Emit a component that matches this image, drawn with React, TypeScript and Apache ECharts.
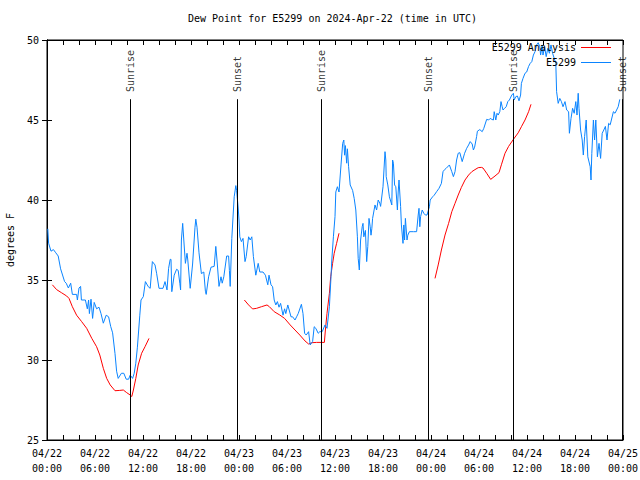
import React, { useEffect, useRef } from "react";
import * as echarts from "echarts";

const FONT = "DejaVu Sans Mono";

// hours since 2024-04-22 00:00 UTC, dew point (F)
const e5299Obs: [number, number][] = [
  [0.1, 38.2], [0.2, 37.3], [0.5, 36.8], [0.8, 36.9], [1.1, 36.7], [1.4, 36.5], [1.7, 35.7], [2.2, 34.9],
  [2.4, 34.8], [2.67, 34.5], [2.96, 34.8], [3.17, 34.1], [3.7, 34.1], [3.8, 33.75], [4.0, 34.5], [4.2, 34.6],
  [4.3, 33.75], [4.8, 33.75], [5.04, 33.2], [5.2, 33.75], [5.3, 32.9], [5.5, 33.8], [5.7, 32.6], [5.9, 33.6],
  [6.2, 33.2], [6.5, 33.3], [6.75, 32.9], [7.04, 32.3], [7.4, 32.8], [7.7, 32.7], [7.96, 32.1], [8.2, 31.7],
  [8.5, 30.4], [8.7, 29.3], [8.9, 28.85], [9.3, 29.17], [9.6, 29.17], [9.9, 28.8], [10.2, 28.8], [10.4, 29.06],
  [10.7, 28.85], [10.9, 29.17], [11.1, 29.8], [11.3, 30.8], [11.6, 32.8], [11.75, 33.75], [12.04, 33.96],
  [12.3, 34.9], [12.66, 34.58], [12.9, 34.48], [13.17, 36.15], [13.5, 35.94], [13.7, 35.42], [14.0, 34.48],
  [14.5, 34.48], [14.75, 34.9], [15.0, 34.38], [15.2, 35.73], [15.4, 36.29], [15.5, 36.29], [15.6, 34.27],
  [15.9, 35.3], [16.2, 35.67], [16.4, 35.6], [16.6, 34.8], [16.7, 34.38], [16.8, 37.5], [16.96, 38.54],
  [17.1, 37.5], [17.3, 36.04], [17.5, 36.67], [17.6, 36.25], [17.9, 34.48], [18.2, 36.0], [18.5, 38.3],
  [18.6, 38.8], [18.75, 38.3], [19.0, 36.7], [19.3, 35.4], [19.6, 35.5], [19.8, 34.3], [19.9, 34.1],
  [20.2, 35.2], [20.5, 35.8], [20.9, 35.85], [21.1, 37.1], [21.25, 36.25], [21.5, 34.6], [21.75, 35.2],
  [21.9, 34.8], [22.1, 35.2], [22.46, 36.5], [22.7, 36.5], [22.8, 35.6], [22.9, 34.6], [23.1, 37.6],
  [23.4, 40.2], [23.6, 40.9], [23.7, 40.6], [23.9, 39.5], [24.0, 38.75], [24.1, 37.7], [24.3, 37.4],
  [24.5, 37.6], [24.75, 36.15], [24.9, 36.46], [25.2, 37.7], [25.4, 37.5], [25.6, 37.7], [25.8, 36.46],
  [26.1, 35.3], [26.4, 36.04], [26.6, 35.5], [27.0, 35.5], [27.3, 35.3], [27.6, 34.7], [27.75, 35.3],
  [28.0, 34.7], [28.2, 34.58], [28.4, 33.75], [28.6, 33.44], [28.8, 33.65], [29.0, 33.3], [29.2, 33.54],
  [29.5, 32.8], [29.7, 33.2], [29.85, 32.9], [30.1, 33.44], [30.5, 32.7], [30.7, 32.7], [31.0, 32.5],
  [31.2, 32.7], [31.4, 32.9], [31.8, 33.48], [32.0, 32.9], [32.2, 31.67], [32.4, 31.56], [32.7, 31.77],
  [32.9, 30.94], [33.2, 31.15], [33.4, 32.08], [33.6, 31.98], [33.9, 31.67], [34.1, 31.77], [34.4, 31.77],
  [34.75, 32.19], [35.0, 31.98], [35.3, 33.33], [35.5, 35.2], [35.6, 36.25], [35.8, 37.7], [36.0, 38.96],
  [36.1, 40.5], [36.3, 40.83], [36.5, 40.5], [36.75, 42.19], [36.96, 43.54], [37.1, 43.75], [37.2, 42.8],
  [37.3, 43.4], [37.46, 42.3], [37.55, 43.2], [37.7, 42.08], [37.9, 40.94], [38.2, 40.6], [38.4, 40.1],
  [38.6, 39.375], [38.8, 37.7], [38.9, 36.35], [39.04, 35.625], [39.2, 37.5], [39.4, 38.33], [39.5, 38.54],
  [39.6, 37.7], [39.8, 38.1], [39.96, 36.15], [40.1, 37.1], [40.25, 38.85], [40.4, 38.33], [40.5, 37.8],
  [40.6, 38.2], [40.7, 38.85], [41.0, 39.69], [41.2, 39.375], [41.4, 40.0], [41.6, 39.8], [41.7, 39.6],
  [41.8, 40.0], [42.0, 40.83], [42.25, 43.02], [42.35, 42.5], [42.4, 41.46], [42.6, 40.94], [42.8, 40.2],
  [43.1, 39.69], [43.2, 42.5], [43.3, 42.3], [43.45, 40.94], [43.6, 40.83], [43.8, 39.375], [43.9, 40.5],
  [44.0, 41.25], [44.2, 39.6], [44.3, 38.44], [44.5, 37.29], [44.6, 38.44], [44.7, 37.5], [44.8, 38.85],
  [45.0, 37.5], [45.1, 37.8], [45.3, 38.02], [45.8, 38.02], [46.2, 38.02], [46.4, 39.06], [46.5, 39.48],
  [46.6, 38.33], [46.7, 38.96], [46.9, 39.375], [47.1, 39.17], [47.3, 39.06], [47.5, 39.06], [47.8, 39.58],
  [47.9, 40.0], [48.2, 40.2], [48.4, 40.3], [48.7, 40.52], [49.0, 40.73], [49.3, 41.04], [49.5, 41.77],
  [49.7, 41.9], [49.9, 41.98], [50.3, 42.19], [50.6, 41.77], [50.8, 41.46], [51.0, 41.77], [51.2, 42.5],
  [51.4, 42.92], [51.6, 42.96], [51.9, 42.4], [52.2, 42.92], [52.46, 43.23], [52.7, 43.44], [52.9, 43.65],
  [53.15, 43.5], [53.3, 43.125], [53.45, 43.3], [53.7, 43.96], [53.8, 44.3], [54.1, 44.4], [54.4, 44.27],
  [54.6, 44.48], [54.96, 45.04], [55.2, 45.0], [55.4, 45.1], [55.6, 45.04], [55.8, 45.0], [55.9, 45.52],
  [56.1, 45.0], [56.25, 45.42], [56.4, 45.31], [56.6, 45.52], [56.75, 46.15], [56.9, 45.83], [57.0, 45.625],
  [57.2, 45.73], [57.4, 45.83], [57.6, 46.15], [57.8, 46.25], [58.1, 46.56], [58.3, 46.67], [58.4, 46.25],
  [58.6, 46.46], [58.8, 46.5], [59.0, 46.2], [59.2, 46.56], [59.3, 47.29], [59.5, 47.6], [59.75, 47.92],
  [59.96, 48.0], [60.2, 48.35], [60.4, 48.54], [60.6, 48.65], [60.8, 49.06], [61.0, 49.27], [61.2, 49.69],
  [61.4, 49.83], [61.6, 49.58], [61.7, 49.06], [61.9, 49.69], [62.0, 49.06], [62.2, 49.58], [62.4, 48.96],
  [62.6, 49.48], [62.8, 49.17], [63.0, 49.69], [63.2, 49.17], [63.6, 48.54], [63.7, 46.77], [63.9, 46.04],
  [64.1, 46.35], [64.3, 46.15], [64.5, 45.83], [64.75, 46.15], [64.96, 45.625], [65.2, 45.52], [65.3, 44.17],
  [65.5, 45.1], [65.7, 45.73], [65.9, 45.42], [66.1, 46.15], [66.25, 45.31], [66.4, 46.67], [66.5, 45.73],
  [66.7, 44.375], [66.9, 43.75], [67.04, 42.81], [67.2, 43.96], [67.4, 45.0], [67.6, 42.7], [67.9, 42.08],
  [68.0, 41.25], [68.1, 42.9], [68.3, 45.0], [68.45, 43.75], [68.6, 45.0], [68.8, 42.7], [69.0, 43.54],
  [69.2, 42.6], [69.4, 44.17], [69.6, 44.375], [69.8, 44.6], [70.0, 43.75], [70.2, 44.79], [70.4, 44.7],
  [70.8, 45.52], [71.0, 45.42], [71.2, 45.625], [71.4, 45.83], [71.6, 46.29],
];

const analysisDay1: [number, number][] = [
  [0.67, 34.7], [1.2, 34.4], [1.83, 34.2], [2.46, 34.0], [2.75, 33.85], [3.17, 33.33], [3.7, 32.8],
  [4.33, 32.4], [4.96, 31.98], [5.6, 31.35], [6.2, 30.83], [6.6, 30.31], [7.04, 29.48], [7.46, 28.85],
  [7.9, 28.44], [8.5, 28.08], [9.1, 28.1], [9.54, 28.125], [9.96, 27.96], [10.4, 27.81], [10.6, 27.72],
  [10.8, 28.125], [11.1, 28.85], [11.4, 29.69], [11.83, 30.42], [12.25, 30.83], [12.75, 31.35],
];
const analysisDay2: [number, number][] = [
  [24.67, 33.75], [25.2, 33.44], [25.7, 33.19], [26.2, 33.23], [26.8, 33.33], [27.5, 33.44], [27.8, 33.33],
  [28.4, 33.02], [29.1, 32.81], [29.7, 32.6], [30.4, 32.19], [31.0, 31.875], [31.6, 31.56], [32.25, 31.19],
  [32.7, 31.0], [33.1, 31.08], [33.7, 31.1], [34.3, 31.1], [34.67, 31.1], [34.8, 31.875], [35.0, 32.92],
  [35.3, 34.17], [35.46, 35.2], [35.7, 36.04], [35.9, 36.67], [36.2, 37.29], [36.5, 37.92],
];
const analysisDay3: [number, number][] = [
  [48.5, 35.1], [48.9, 35.94], [49.3, 36.875], [49.75, 37.81], [50.2, 38.54], [50.6, 39.27], [51.0, 39.79],
  [51.4, 40.31], [51.8, 40.79], [52.25, 41.25], [52.7, 41.56], [53.1, 41.77], [53.5, 41.9], [53.9, 42.02],
  [54.3, 42.04], [54.5, 42.0], [54.96, 41.67], [55.46, 41.29], [56.0, 41.5], [56.5, 41.71], [56.8, 42.2],
  [57.25, 42.92], [57.7, 43.35], [58.3, 43.79], [58.9, 44.2], [59.3, 44.58], [59.75, 45.0], [60.2, 45.52],
  [60.5, 45.98],
];

const sunHours = [10.375, 23.75, 34.25, 47.625, 58.25, 71.9];
const sunLabels = ["Sunrise", "Sunset", "Sunrise", "Sunset", "Sunrise", "Sunset"];

const titleText = "Dew Point for E5299 on 2024-Apr-22 (time in UTC)";
const yName = "degrees F";
const startDay = 22;

const RED = "#ff0000";
const BLUE = "#0a84ff";

function fmtHour(h: number) {
  const day = startDay + Math.floor(h / 24);
  const hh = Math.round(h % 24);
  return `04/${day}\n${hh < 10 ? "0" + hh : hh}:00`;
}

export default function App() {
  const ref = useRef<HTMLDivElement>(null);
  useEffect(() => {
    if (!ref.current) return;
    const chart = echarts.init(ref.current, null, { renderer: "svg" });
    const txt = { fontFamily: FONT, fontSize: 10, color: "#000" };
    const xBase = {
      type: "value" as const,
      min: 0,
      max: 72,
      interval: 6,
      splitLine: { show: false },
      axisLine: { show: true, lineStyle: { color: "#000", width: 1 } },
      axisTick: { show: true, inside: true, length: 5, lineStyle: { color: "#000" } },
      minorTick: { show: true, splitNumber: 3, length: 5, lineStyle: { color: "#000" } },
      minorSplitLine: { show: false },
    };
    const yBase = {
      type: "value" as const,
      min: 25,
      max: 50,
      interval: 5,
      splitLine: { show: false },
      axisLine: { show: true, lineStyle: { color: "#000", width: 1 } },
      axisTick: { show: true, inside: true, length: 5, lineStyle: { color: "#000" } },
    };
    const analysisSeries = [analysisDay1, analysisDay2, analysisDay3].map((d) => ({
      name: "E5299 Analysis",
      type: "line",
      data: d,
      showSymbol: false,
      symbol: "none",
      color: RED,
      lineStyle: { color: RED, width: 1 },
      itemStyle: { color: RED },
    }));
    chart.setOption({
      animation: false,
      title: {
        text: titleText,
        left: 188,
        top: 13,
        padding: 0,
        textStyle: { ...txt, fontWeight: "normal" },
      },
      legend: {
        data: [
          { name: "E5299 Analysis", icon: "rect", itemStyle: { color: RED, borderColor: RED, borderWidth: 0 } },
          { name: "E5299", icon: "rect", itemStyle: { color: BLUE, borderColor: BLUE, borderWidth: 0 } },
        ],
        orient: "vertical",
        right: 29,
        top: 42,
        padding: 0,
        align: "right",
        itemWidth: 30,
        itemHeight: 1,
        itemGap: 4,
        textStyle: { ...txt, lineHeight: 11 },
      },
      grid: {
        left: 47,
        right: 17,
        top: 40,
        bottom: 40,
        show: true,
        borderColor: "#000",
        borderWidth: 1,
        containLabel: false,
        outerBoundsMode: "none",
      },
      xAxis: [
        {
          ...xBase,
          position: "bottom",
          axisLabel: { ...txt, margin: 6, lineHeight: 15, formatter: (v: number) => fmtHour(v) },
        },
        { ...xBase, position: "top", axisLabel: { show: false } },
      ],
      yAxis: [
        {
          ...yBase,
          position: "left",
          name: yName,
          nameLocation: "middle",
          nameGap: 32,
          nameRotate: 90,
          nameTextStyle: { ...txt },
          axisLabel: { ...txt, margin: 8 },
        },
        { ...yBase, position: "right", axisLabel: { show: false } },
      ],
      series: [
        ...analysisSeries,
        {
          name: "E5299",
          type: "line",
          data: e5299Obs,
          showSymbol: false,
          symbol: "none",
          color: BLUE,
          lineStyle: { color: BLUE, width: 1 },
          itemStyle: { color: BLUE },
        },
        {
          name: "sun",
          type: "scatter",
          silent: true,
          symbolSize: 1,
          itemStyle: { color: "rgba(0,0,0,0)" },
          data: sunHours.map((h, i) => ({ name: sunLabels[i], value: [h, 46.75] })),
          label: {
            show: true,
            formatter: "{b}",
            position: "inside",
            rotate: 90,
            align: "left",
            verticalAlign: "middle",
            ...txt,
          },
          markLine: {
            silent: true,
            symbol: ["none", "none"],
            label: { show: false },
            lineStyle: { color: "#000", width: 1, type: "solid" },
            emphasis: { disabled: true },
            data: sunHours.map((h) => [{ coord: [h, 25] }, { coord: [h, 46.3] }]),
          },
        },
      ],
    });
    return () => chart.dispose();
  }, []);
  return (
    <div
      ref={ref}
      style={{ position: "absolute", left: 0, top: 0, width: 640, height: 480, background: "#fff" }}
    />
  );
}
